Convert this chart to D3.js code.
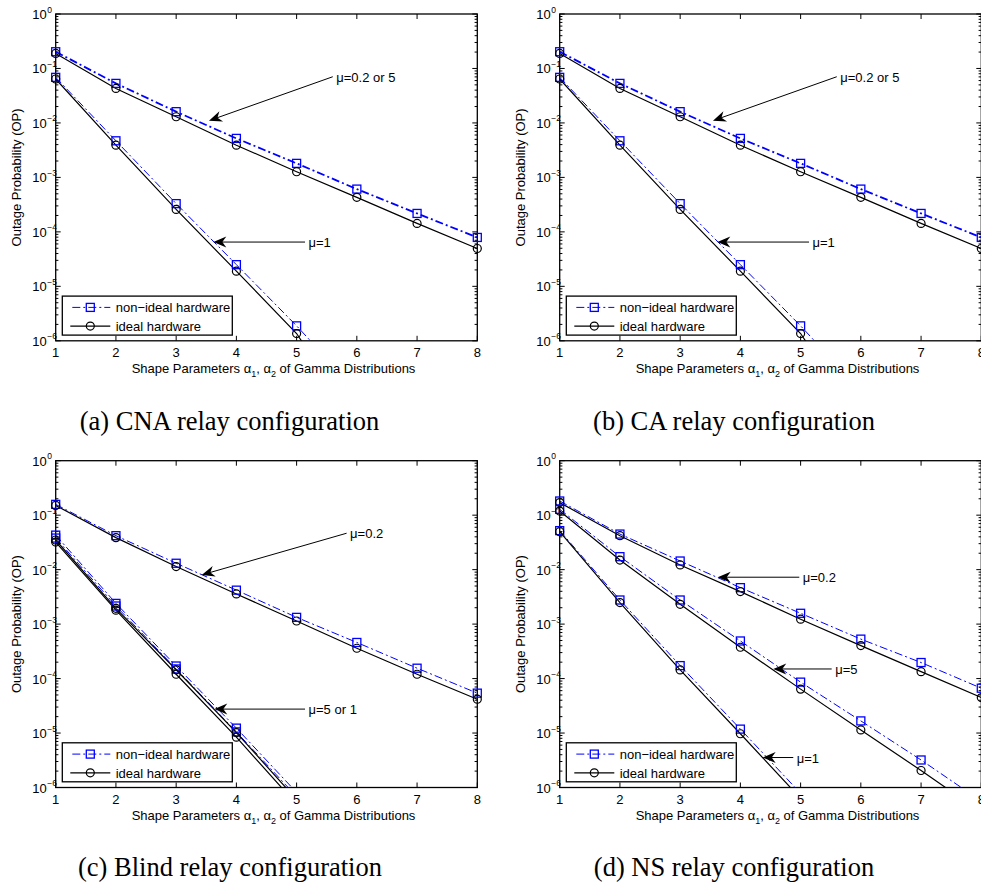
<!DOCTYPE html>
<html>
<head>
<meta charset="utf-8">
<script src="https://cdn.jsdelivr.net/npm/d3@7"></script>
<style>
  body { margin: 0; background: #fff; }
  svg { display: block; }
  text { font-family: "Liberation Sans", Arial, Helvetica, sans-serif; fill: #000; }
  .caption { font-family: "Liberation Serif", "Times New Roman", serif; }
</style>
</head>
<body>
<script>
// shape parameter alpha1 = alpha2
var alphas = [1, 2, 3, 4, 5, 6, 7, 8];
var xTickLabels = ['1', '2', '3', '4', '5', '6', '7', '8'];
var yTickValues = [1, 1e-1, 1e-2, 1e-3, 1e-4, 1e-5, 1e-6];
var yTickExponents = ['0', '\u22121', '\u22122', '\u22123', '\u22124', '\u22125', '\u22126'];

// (a) CNA and (b) CA relay configuration
var cnaMu02or5NonIdeal = [0.203, 0.0532, 0.0161, 0.0052, 1.81e-3, 6.1e-4, 2.18e-4, 7.9e-5];
var cnaMu02or5Ideal    = [0.189, 0.043, 0.013, 0.0039, 1.27e-3, 4.3e-4, 1.43e-4, 4.95e-5];
var cnaMu1NonIdeal     = [0.0687, 4.7e-3, 3.3e-4, 2.5e-5, 1.88e-6, 1.2e-7];
var cnaMu1Ideal        = [0.064, 3.9e-3, 2.58e-4, 1.9e-5, 1.36e-6, 2.9e-8];

// (c) Blind relay configuration
var blindMu02NonIdeal = [0.158, 0.042, 0.0131, 4.2e-3, 1.33e-3, 4.6e-4, 1.55e-4, 5.4e-5];
var blindMu02Ideal    = [0.151, 0.0387, 0.0114, 3.58e-3, 1.14e-3, 3.6e-4, 1.2e-4, 4.18e-5];
var blindMu5NonIdeal  = [0.043, 2.4e-3, 1.7e-4, 1.23e-5, 8.1e-7];
var blindMu1NonIdeal  = [0.038, 2.15e-3, 1.5e-4, 1.05e-5, 6.8e-7];
var blindMu5Ideal     = [0.035, 1.95e-3, 1.45e-4, 1.02e-5, 6.0e-7];
var blindMu1Ideal     = [0.032, 1.8e-3, 1.2e-4, 8.4e-6, 4.9e-7];

// (d) NS relay configuration
var nsMu02NonIdeal = [0.182, 0.045, 0.0144, 4.67e-3, 1.58e-3, 5.3e-4, 1.97e-4, 6.65e-5];
var nsMu02Ideal    = [0.17, 0.042, 0.0122, 3.95e-3, 1.23e-3, 4.03e-4, 1.34e-4, 4.48e-5];
var nsMu5NonIdeal  = [0.128, 0.0173, 2.77e-3, 4.9e-4, 8.6e-5, 1.67e-5, 3.2e-6, 5.6e-7];
var nsMu5Ideal     = [0.119, 0.015, 2.31e-3, 3.76e-4, 6.4e-5, 1.14e-5, 2.05e-6, 3.5e-7];
var nsMu1NonIdeal  = [0.052, 2.77e-3, 1.73e-4, 1.18e-5, 7.8e-7];
var nsMu1Ideal     = [0.0498, 2.48e-3, 1.44e-4, 9.7e-6, 6.3e-7];

var legendLabels = ['non\u2212ideal hardware', 'ideal hardware'];

var options = {
  width: 981,
  height: 883,
  plotW: 421.6,
  plotH: 326.8,
  blue: '#0000ff'
};

var panels = [
  {
    left: 55.7, top: 14, clip: 'clipA',
    caption: '(a) CNA relay configuration', capX: 229.5, capY: 430,
    series: [
      {values: cnaMu02or5NonIdeal, ideal: false, w: 1.8},
      {values: cnaMu02or5Ideal, ideal: true},
      {values: cnaMu1NonIdeal, ideal: false, w: 1},
      {values: cnaMu1Ideal, ideal: true}
    ],
    notes: [
      {text: '\u03bc=0.2 or 5', from: [5.6, 0.0705], to: [3.545, 0.011]},
      {text: '\u03bc=1', from: [5.14, 6.5e-5], to: [3.617, 6.5e-5]}
    ]
  },
  {
    left: 559.7, top: 14, clip: 'clipB',
    caption: '(b) CA relay configuration', capX: 734, capY: 430,
    series: [
      {values: cnaMu02or5NonIdeal, ideal: false, w: 1.8},
      {values: cnaMu02or5Ideal, ideal: true},
      {values: cnaMu1NonIdeal, ideal: false, w: 1},
      {values: cnaMu1Ideal, ideal: true}
    ],
    notes: [
      {text: '\u03bc=0.2 or 5', from: [5.6, 0.0705], to: [3.545, 0.011]},
      {text: '\u03bc=1', from: [5.14, 6.5e-5], to: [3.617, 6.5e-5]}
    ]
  },
  {
    left: 55.7, top: 460.7, clip: 'clipC',
    caption: '(c) Blind relay configuration', capX: 230, capY: 876,
    series: [
      {values: blindMu02NonIdeal, ideal: false, w: 1},
      {values: blindMu02Ideal, ideal: true},
      {values: blindMu5NonIdeal, ideal: false, w: 1},
      {values: blindMu1NonIdeal, ideal: false, w: 1},
      {values: blindMu5Ideal, ideal: true},
      {values: blindMu1Ideal, ideal: true}
    ],
    notes: [
      {text: '\u03bc=0.2', from: [5.83, 0.0466], to: [3.424, 0.008]},
      {text: '\u03bc=5 or 1', from: [5.14, 2.75e-5], to: [3.633, 2.75e-5]}
    ]
  },
  {
    left: 559.7, top: 460.7, clip: 'clipD',
    caption: '(d) NS relay configuration', capX: 734, capY: 876,
    series: [
      {values: nsMu02NonIdeal, ideal: false, w: 1},
      {values: nsMu02Ideal, ideal: true},
      {values: nsMu5NonIdeal, ideal: false, w: 1},
      {values: nsMu5Ideal, ideal: true},
      {values: nsMu1NonIdeal, ideal: false, w: 1},
      {values: nsMu1Ideal, ideal: true}
    ],
    notes: [
      {text: '\u03bc=0.2', from: [4.978, 7.26e-3], to: [3.623, 7.26e-3]},
      {text: '\u03bc=5', from: [5.516, 1.5e-4], to: [4.546, 1.5e-4]},
      {text: '\u03bc=1', from: [4.878, 3.55e-6], to: [4.37, 3.55e-6]}
    ]
  }
];

var svg = d3.select('body')
            .append('svg')
            .attr('width', options.width)
            .attr('height', options.height);

var minorTicks = [];
for (var k = -6; k < 0; k++) {
  for (var m = 2; m <= 9; m++) {
    minorTicks.push(m * Math.pow(10, k));
  }
}

var drawPanel = function(p) {
  var g = svg.append('g');
  var x = d3.scaleLinear().domain([1, 8]).range([p.left, p.left + options.plotW]);
  var y = d3.scaleLog().domain([1e-6, 1]).range([p.top + options.plotH, p.top]);
  var x0 = x.range()[0], x1 = x.range()[1];
  var y0 = y.range()[1], y1 = y.range()[0];

  svg.append('clipPath').attr('id', p.clip)
    .append('rect')
    .attr('x', x0).attr('y', y0)
    .attr('width', x1 - x0).attr('height', y1 - y0);

  // plot box
  g.append('rect')
    .attr('x', x0).attr('y', y0)
    .attr('width', x1 - x0).attr('height', y1 - y0)
    .attr('fill', 'none').attr('stroke', '#000').attr('stroke-width', 1.3);

  // x ticks (inside, top and bottom)
  var xt = g.append('g').attr('stroke', '#000').attr('stroke-width', 1);
  alphas.forEach(function(a) {
    xt.append('line').attr('x1', x(a)).attr('x2', x(a)).attr('y1', y1).attr('y2', y1 - 5);
    xt.append('line').attr('x1', x(a)).attr('x2', x(a)).attr('y1', y0).attr('y2', y0 + 5);
  });
  g.selectAll('.xlab').data(xTickLabels).enter()
    .append('text')
    .attr('x', function(d, i) { return x(alphas[i]); })
    .attr('y', y1 + 16)
    .attr('text-anchor', 'middle')
    .style('font-size', '13px')
    .text(function(d) { return d; });

  // y ticks, major and minor, on both sides
  yTickValues.forEach(function(v) {
    xt.append('line').attr('x1', x0).attr('x2', x0 + 5).attr('y1', y(v)).attr('y2', y(v));
    xt.append('line').attr('x1', x1).attr('x2', x1 - 5).attr('y1', y(v)).attr('y2', y(v));
  });
  minorTicks.forEach(function(v) {
    xt.append('line').attr('x1', x0).attr('x2', x0 + 2.7).attr('y1', y(v)).attr('y2', y(v));
    xt.append('line').attr('x1', x1).attr('x2', x1 - 2.7).attr('y1', y(v)).attr('y2', y(v));
  });
  yTickValues.forEach(function(v, i) {
    g.append('text')
      .attr('x', x0 - 9).attr('y', y(v) + 5)
      .attr('text-anchor', 'end')
      .style('font-size', '13px')
      .text('10');
    g.append('text')
      .attr('x', x0 - 8.5).attr('y', y(v) - 1.5)
      .style('font-size', '8.5px')
      .text(yTickExponents[i]);
  });

  // axis titles
  g.append('text')
    .attr('transform', 'translate(' + (x0 - 34.7) + ',' + ((y0 + y1) / 2) + ') rotate(-90)')
    .attr('text-anchor', 'middle')
    .style('font-size', '13px')
    .text('Outage Probability (OP)');

  var xl = g.append('text')
    .attr('x', (x0 + x1) / 2 + 7)
    .attr('y', y1 + 32.5)
    .attr('text-anchor', 'middle')
    .style('font-size', '13px');
  xl.append('tspan').text('Shape Parameters \u03b1');
  xl.append('tspan').attr('dy', 4).style('font-size', '9px').text('1');
  xl.append('tspan').attr('dy', -4).text(', \u03b1');
  xl.append('tspan').attr('dy', 4).style('font-size', '9px').text('2');
  xl.append('tspan').attr('dy', -4).text(' of Gamma Distributions');

  // curves
  var line = d3.line()
    .x(function(d, i) { return x(alphas[i]); })
    .y(function(d) { return y(d); });

  var curves = g.append('g').attr('clip-path', 'url(#' + p.clip + ')');
  p.series.forEach(function(s) {
    curves.append('path')
      .datum(s.values)
      .attr('d', line)
      .attr('fill', 'none')
      .attr('stroke', s.ideal ? '#000' : options.blue)
      .attr('stroke-width', s.ideal ? 1.2 : s.w)
      .attr('stroke-dasharray', s.ideal ? null : '8,3,2,3');
  });

  p.series.forEach(function(s) {
    var pts = s.values.map(function(v, i) { return [alphas[i], v]; })
                      .filter(function(d) { return d[1] >= 1e-6; });
    if (s.ideal) {
      g.selectAll(null).data(pts).enter()
        .append('circle')
        .attr('cx', function(d) { return x(d[0]); })
        .attr('cy', function(d) { return y(d[1]); })
        .attr('r', 4)
        .attr('fill', 'none').attr('stroke', '#000').attr('stroke-width', 1.2);
    } else {
      g.selectAll(null).data(pts).enter()
        .append('rect')
        .attr('x', function(d) { return x(d[0]) - 4; })
        .attr('y', function(d) { return y(d[1]) - 4; })
        .attr('width', 8).attr('height', 8)
        .attr('fill', 'none').attr('stroke', options.blue).attr('stroke-width', 1.3);
    }
  });

  // arrows with labels
  p.notes.forEach(function(n) {
    var fx = x(n.from[0]), fy = y(n.from[1]);
    var tx = x(n.to[0]), ty = y(n.to[1]);
    var ang = Math.atan2(fy - ty, fx - tx) * 180 / Math.PI;
    g.append('line')
      .attr('x1', fx).attr('y1', fy).attr('x2', tx + 8 * Math.cos(ang * Math.PI / 180))
      .attr('y2', ty + 8 * Math.sin(ang * Math.PI / 180))
      .attr('stroke', '#000').attr('stroke-width', 1);
    g.append('path')
      .attr('d', 'M0,0 L13,-5.5 L9,0 L13,5.5 Z')
      .attr('transform', 'translate(' + tx + ',' + ty + ') rotate(' + ang + ')')
      .attr('fill', '#000');
    g.append('text')
      .attr('x', fx + 3.5).attr('y', fy + 5)
      .style('font-size', '13px')
      .text(n.text);
  });

  // legend
  var lx = x0 + 6.6, ly = y1 - 44.7;
  var lg = g.append('g');
  lg.append('rect')
    .attr('x', lx).attr('y', ly).attr('width', 170).attr('height', 39)
    .attr('fill', '#fff').attr('stroke', '#000').attr('stroke-width', 1.3);
  var r1 = ly + 11.3, r2 = ly + 30;
  lg.append('line').attr('x1', lx + 8).attr('x2', lx + 48).attr('y1', r1).attr('y2', r1)
    .attr('stroke', options.blue).attr('stroke-width', 1).attr('stroke-dasharray', '8,3,2,3')
    .attr('stroke-dashoffset', -2);
  lg.append('rect').attr('x', lx + 24).attr('y', r1 - 4).attr('width', 8).attr('height', 8)
    .attr('fill', 'none').attr('stroke', options.blue).attr('stroke-width', 1.3);
  lg.append('line').attr('x1', lx + 8).attr('x2', lx + 48).attr('y1', r2).attr('y2', r2)
    .attr('stroke', '#000').attr('stroke-width', 1.2);
  lg.append('circle').attr('cx', lx + 28).attr('cy', r2).attr('r', 4)
    .attr('fill', 'none').attr('stroke', '#000').attr('stroke-width', 1.2);
  lg.selectAll('.lt').data(legendLabels).enter()
    .append('text')
    .attr('x', lx + 53.4)
    .attr('y', function(d, i) { return (i ? r2 : r1) + 4.7; })
    .style('font-size', '13px')
    .text(function(d) { return d; });

  // caption
  svg.append('text')
    .attr('class', 'caption')
    .attr('x', p.capX).attr('y', p.capY)
    .attr('text-anchor', 'middle')
    .style('font-size', '26.5px')
    .text(p.caption);
};

panels.forEach(drawPanel);
</script>
</body>
</html>
